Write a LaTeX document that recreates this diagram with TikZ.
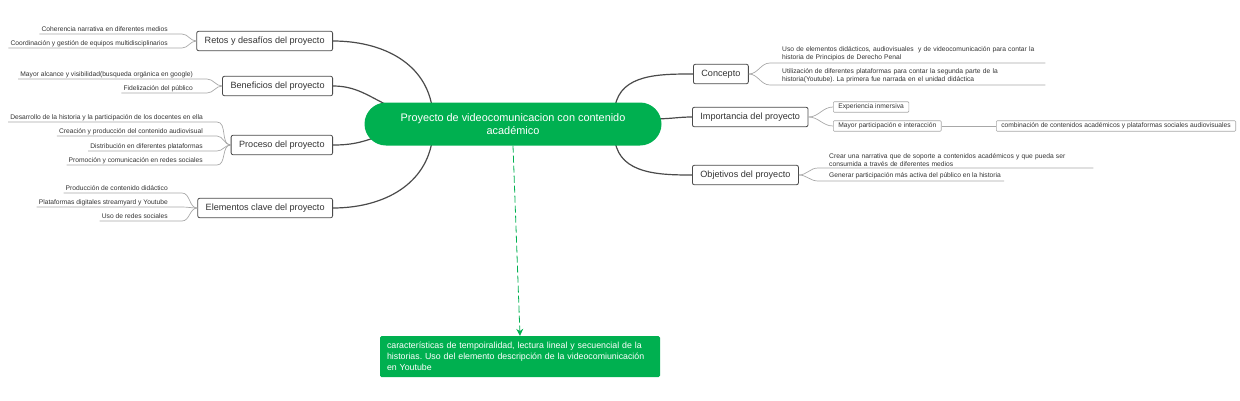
\documentclass[tikz,border=0pt]{standalone}
\usepackage{fontspec}
\setmainfont{Liberation Sans}
\frenchspacing
\usetikzlibrary{positioning, arrows.meta, backgrounds}
\definecolor{mmGreen}{HTML}{00B050}
\definecolor{mmInk}{HTML}{333333}
\definecolor{mmEdge}{HTML}{4A4A4A}
\definecolor{mmTwig}{HTML}{A8A8A8}

\begin{document}
\begin{tikzpicture}[
    x=1pt, y=-1pt,
    >=Stealth,
    root/.style={fill=mmGreen, text=white, rounded corners=21.5pt, minimum width=297pt, minimum height=43pt, align=center, font=\fontsize{10.9}{12.5}\selectfont},
    topic/.style={draw=mmEdge, fill=white, line width=0.8pt, rounded corners=2pt, minimum height=19.5pt, inner xsep=8pt, text=mmInk, font=\fontsize{9.1}{10}\selectfont},
    topicL/.style={topic, anchor=east},
    topicR/.style={topic, anchor=west},
    leafL/.style={font=\fontsize{6.7}{8}\selectfont, text=mmInk, inner xsep=2pt, inner ysep=1.5pt, text depth=1.3pt, anchor=south east},
    leafR/.style={font=\fontsize{6.7}{8}\selectfont, text=mmInk, inner xsep=0pt, inner ysep=1.5pt, align=left, anchor=south west},
    chip/.style={draw=mmTwig, line width=0.6pt, rounded corners=1pt, minimum height=10.5pt, inner xsep=5pt, inner ysep=1pt, text=mmInk, font=\fontsize{6.7}{7}\selectfont, anchor=west},
    note/.style={fill=mmGreen, text=white, rounded corners=1.5pt, text width=266pt, inner xsep=7pt, minimum height=41pt, align=left, font=\fontsize{8.8}{11}\selectfont},
    branch/.style={draw=mmEdge, line width=1.2pt},
    twig/.style={draw=mmTwig, line width=0.7pt},
    link/.style={-{Stealth[length=7pt, width=7pt]}, mmGreen, line width=0.8pt, dash pattern=on 7pt off 3pt},
]
\useasboundingbox (0,0) rectangle (1240,400);

% ---- Centre ----
\node[root] (root) at (513,124) {Proyecto de videocomunicacion con contenido\\académico};

% ---- Left topics ----
\node[topicL] (retos) at (333,41)  {Retos y desafíos del proyecto};
\node[topicL] (benef) at (333,86)  {Beneficios del proyecto};
\node[topicL] (proc)  at (333,145) {Proceso del proyecto};
\node[topicL] (elem)  at (333,208) {Elementos clave del proyecto};

% ---- Right topics ----
\node[topicR] (conc) at (693,74)  {Concepto};
\node[topicR] (imp)  at (692,117) {Importancia del proyecto};
\node[topicR] (obj)  at (692,175) {Objetivos del proyecto};

% Branches from the centre
\begin{scope}[on background layer]
\draw[branch] (retos.east) to[out=0, in=100] ([yshift=-4pt]root.165);
\draw[branch] (benef.east) to[out=0, in=155] ([yshift=-4pt]root.170);
\draw[branch] (proc.east)  to[out=0, in=200] ([xshift=12pt]root.185);
\draw[branch] (elem.east)  to[out=0, in=260] ([yshift=4pt]root.195);
\draw[branch] (conc.west)  to[out=180, in=80]  ([yshift=-4pt]root.12);
\draw[branch] (imp.west)   to[out=180, in=0]   ([xshift=-4pt]root.2);
\draw[branch] (obj.west)   to[out=180, in=-80] ([yshift=4pt]root.-12);
\end{scope}

% ---- Retos: leaves ----
\node[leafL] (r1) at (170,34) {Coherencia narrativa en diferentes medios};
\node[leafL] (r2) at (170,48) {Coordinación y gestión de equipos multidisciplinarios};
\draw[twig] (r1.south west) -- ([xshift=12pt]r1.south east) to[out=0, in=180] (retos.west);
\draw[twig] (r2.south west) -- ([xshift=12pt]r2.south east) to[out=0, in=180] (retos.west);

% ---- Beneficios: leaves ----
\node[leafL] (b1) at (195,79) {Mayor alcance y visibilidad(busqueda orgánica en google)};
\node[leafL] (b2) at (195,93) {Fidelización del público};
\draw[twig] (b1.south west) -- ([xshift=12pt]b1.south east) to[out=0, in=180] (benef.west);
\draw[twig] (b2.south west) -- ([xshift=12pt]b2.south east) to[out=0, in=180] (benef.west);

% ---- Proceso: leaves ----
\node[leafL] (p1) at (205,122) {Desarrollo de la historia y la participación de los docentes en ella};
\node[leafL] (p2) at (205,136) {Creación y producción del contenido audiovisual};
\node[leafL] (p3) at (205,151) {Distribución en diferentes plataformas};
\node[leafL] (p4) at (205,165) {Promoción y comunicación en redes sociales};
\draw[twig] (p1.south west) -- ([xshift=12pt]p1.south east) to[out=0, in=180] (proc.west);
\draw[twig] (p2.south west) -- ([xshift=12pt]p2.south east) to[out=0, in=180] (proc.west);
\draw[twig] (p3.south west) -- ([xshift=12pt]p3.south east) to[out=0, in=180] (proc.west);
\draw[twig] (p4.south west) -- ([xshift=12pt]p4.south east) to[out=0, in=180] (proc.west);

% ---- Elementos clave: leaves ----
\node[leafL] (e1) at (170,193) {Producción de contenido didáctico};
\node[leafL] (e2) at (170,207) {Plataformas digitales streamyard y Youtube};
\node[leafL] (e3) at (170,221) {Uso de redes sociales};
\draw[twig] (e1.south west) -- ([xshift=12pt]e1.south east) to[out=0, in=180] (elem.west);
\draw[twig] (e2.south west) -- ([xshift=12pt]e2.south east) to[out=0, in=180] (elem.west);
\draw[twig] (e3.south west) -- ([xshift=12pt]e3.south east) to[out=0, in=180] (elem.west);

% ---- Concepto: leaves ----
\node[leafR, text width=263pt] (k1) at (782,63) {Uso de elementos didácticos, audiovisuales\ \ y de videocomunicación para contar la\\historia de Principios de Derecho Penal};
\node[leafR, text width=263pt] (k2) at (782,85) {Utilización de diferentes plataformas para contar la segunda parte de la\\historia(Youtube). La primera fue narrada en el unidad didáctica};
\draw[twig] (conc.east) to[out=0, in=180] ([xshift=-12pt]k1.south west) -- (k1.south east);
\draw[twig] (conc.east) to[out=0, in=180] ([xshift=-12pt]k2.south west) -- (k2.south east);

% ---- Importancia: leaves ----
\node[chip] (i1) at (833,107) {Experiencia inmersiva};
\node[chip] (i2) at (833,126) {Mayor participación e interacción};
\node[chip] (i3) at (996,126) {combinación de contenidos académicos y plataformas sociales audiovisuales};
\draw[twig] (imp.east) to[out=0, in=180] (i1.west);
\draw[twig] (imp.east) to[out=0, in=180] (i2.west);
\draw[twig] (i2.east) -- (i3.west);

% ---- Objetivos: leaves ----
\node[leafR, text width=264pt] (o1) at (829,168) {Crear una narrativa que de soporte a contenidos académicos y que pueda ser\\consumida a través de diferentes medios};
\node[leafR] (o2) at (829,181) {Generar participación más activa del público en la historia};
\draw[twig] (obj.east) to[out=0, in=180] ([xshift=-11pt]o1.south west) -- (o1.south east);
\draw[twig] (obj.east) to[out=0, in=180] ([xshift=-11pt]o2.south west) -- ([xshift=3pt]o2.south east);

% ---- Note below the centre ----
\node[note] (note) at (520,356.5) {características de tempoiralidad, lectura lineal y secuencial de la\\historias. Uso del elemento descripción de la videocomiunicación\\en Youtube};
\draw[link] (root.south) -- (note.north);

\end{tikzpicture}
\end{document}
